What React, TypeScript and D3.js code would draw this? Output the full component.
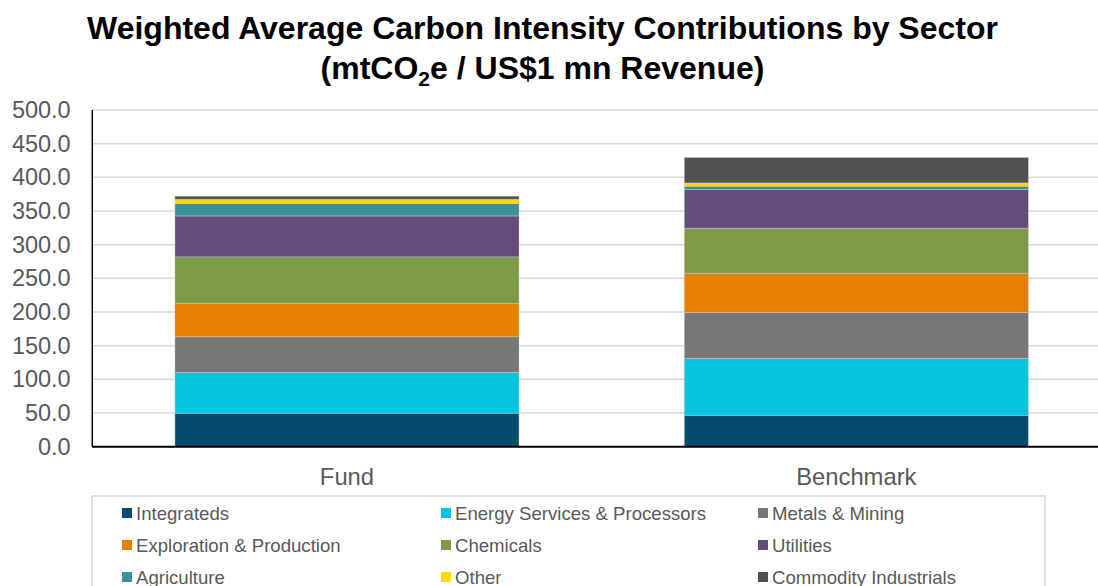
import React from "react";
import * as d3 from "d3";

const categories = ["Fund", "Benchmark"];
const sectors = [
  "Integrateds",
  "Energy Services & Processors",
  "Metals & Mining",
  "Exploration & Production",
  "Chemicals",
  "Utilities",
  "Agriculture",
  "Other",
  "Commodity Industrials",
];
const fundValues = [49.6, 60.8, 52.8, 49.6, 69.1, 60.8, 18.4, 6.4, 4.5];
const benchmarkValues = [46.6, 84.6, 68.2, 58.3, 66.8, 57.4, 4.9, 4.9, 37.7];
const sectorColors = [
  "#074B6F",
  "#05C3DE",
  "#777777",
  "#E47F00",
  "#7D9A46",
  "#634D7A",
  "#3A9197",
  "#FFDA00",
  "#505050",
];
const yTicks = [0, 50, 100, 150, 200, 250, 300, 350, 400, 450, 500];

const W = 1098;
const H = 586;
const M = { left: 92.3, right: 1111, top: 110, bottom: 446.7 };

export default function App() {
  const x = d3
    .scaleBand<string>()
    .domain(categories)
    .range([M.left, M.right])
    .paddingInner(0.3245)
    .paddingOuter(0.16225);
  const y = d3.scaleLinear().domain([0, 500]).range([M.bottom, M.top]);

  const rows = categories.map((c, i) => {
    const vals = i === 0 ? fundValues : benchmarkValues;
    const o: any = { category: c };
    sectors.forEach((s, j) => (o[s] = vals[j]));
    return o;
  });
  const stack = d3.stack<any>().keys(sectors)(rows);

  const legendCols = [122, 441, 758];
  const legendRows = [513, 545, 577];

  return (
    <svg
      width={W}
      height={H}
      style={{ position: "absolute", left: 0, top: 0, background: "#fff" }}
      fontFamily="'Liberation Sans', Arial, sans-serif"
    >
      <rect x={0} y={0} width={W} height={H} fill="#fff" />
      {/* Title */}
      <text x={542.5} y={38.5} textAnchor="middle" fontSize={32} fontWeight="bold" fill="#000">
        Weighted Average Carbon Intensity Contributions by Sector
      </text>
      <text x={542.5} y={78.5} textAnchor="middle" fontSize={32} fontWeight="bold" fill="#000">
        <tspan>(mtCO</tspan>
        <tspan fontSize={21} dy={7}>2</tspan>
        <tspan dy={-7}>e / US$1 mn Revenue)</tspan>
      </text>

      {/* Gridlines */}
      {yTicks.map((t) => (
        <line
          key={"g" + t}
          x1={M.left}
          x2={M.right}
          y1={y(t)}
          y2={y(t)}
          stroke="#d9d9d9"
          strokeWidth={1.5}
        />
      ))}
      {/* Tick labels */}
      {yTicks.map((t) => (
        <text
          key={"t" + t}
          x={70.7}
          y={y(t) + 8}
          textAnchor="end"
          fontSize={23.5}
          fill="#595959"
        >
          {t.toFixed(1)}
        </text>
      ))}

      {/* Bars */}
      {stack.map((layer, li) =>
        layer.map((d, ci) => (
          <rect
            key={li + "-" + ci}
            x={x(categories[ci])!}
            width={x.bandwidth()}
            y={y(d[1])}
            height={y(d[0]) - y(d[1])}
            fill={sectorColors[li]}
            stroke="#c8c8c8"
            strokeOpacity={0.6}
            strokeWidth={0.75}
          />
        ))
      )}

      {/* Axes */}
      <line x1={M.left} x2={M.left} y1={M.top} y2={M.bottom} stroke="#000" strokeWidth={1.5} />
      <line x1={M.left} x2={M.right} y1={M.bottom} y2={M.bottom} stroke="#000" strokeWidth={2} />

      {/* Category labels */}
      {categories.map((c) => (
        <text
          key={c}
          x={x(c)! + x.bandwidth() / 2}
          y={485}
          textAnchor="middle"
          fontSize={23.8}
          fill="#595959"
        >
          {c}
        </text>
      ))}

      {/* Legend */}
      <rect x={92} y={496} width={953} height={110} fill="none" stroke="#d9d9d9" strokeWidth={1.5} />
      {sectors.map((s, i) => {
        const cx = legendCols[i % 3];
        const cy = legendRows[Math.floor(i / 3)];
        return (
          <g key={s}>
            <rect x={cx} y={cy - 5} width={10} height={10} fill={sectorColors[i]} />
            <text x={cx + 14} y={cy + 6.5} fontSize={18.6} fill="#595959">
              {s}
            </text>
          </g>
        );
      })}
    </svg>
  );
}
